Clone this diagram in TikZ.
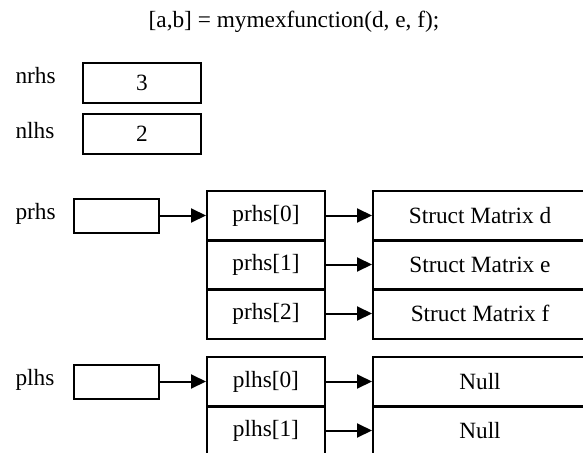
\documentclass[tikz,border=0pt]{standalone}
\usepackage{fontspec}
\setmainfont{Liberation Serif}
\usetikzlibrary{arrows.meta,positioning}

\begin{document}
\begin{tikzpicture}[x=1pt,y=-1pt,font=\fontsize{23.3}{28}\selectfont,
	box/.style={draw,line width=2pt,inner sep=0pt},
	cnt/.style={box,minimum width=118pt,minimum height=40pt},
	ptr/.style={box,minimum width=85pt,minimum height=34pt},
	cell/.style={box,minimum width=118pt,minimum height=50pt},
	wide/.style={box,minimum width=214pt,minimum height=50pt},
	link/.style={-{Triangle[length=15pt,width=14pt]},line width=2pt}]
	
	\useasboundingbox (0,0) rectangle (583,452);
	
	\node[anchor=base] (call) at (294,28) {[a,b] = mymexfunction(d, e, f);};
	
	% counts
	\node[anchor=base west] (nrhslbl) at (12,83) {nrhs};
	\node[anchor=base west] (nlhslbl) at (12,138) {nlhs};
	\node[cnt] (nrhs) at (142,83) {3};
	\node[cnt] (nlhs) at (142,134) {2};
	
	% pointer arrays
	\node[anchor=base west] (prhslbl) at (12,219) {prhs};
	\node[anchor=base west] (plhslbl) at (12,385) {plhs};
	\node[ptr] (prhs) at (116.5,215.5) {};
	\node[ptr] (plhs) at (116.5,381.5) {};
	
	\foreach \i/\m in {0/d,1/e,2/f} {
		\node[cell] (prhs\i) at (266,215.5+49*\i) {prhs[\i]};
		\node[wide] (mat\i) at (480,215.5+49*\i) {Struct Matrix \m};
		\draw[link] (prhs\i) -- (mat\i);
	}
	\foreach \i in {0,1} {
		\node[cell] (plhs\i) at (266,381.5+49*\i) {plhs[\i]};
		\node[wide] (null\i) at (480,381.5+49*\i) {Null};
		\draw[link] (plhs\i) -- (null\i);
	}
	
	% connections
	\draw[link] (prhs) -- (prhs0);
	\draw[link] (plhs) -- (plhs0);
\end{tikzpicture}
\end{document}
